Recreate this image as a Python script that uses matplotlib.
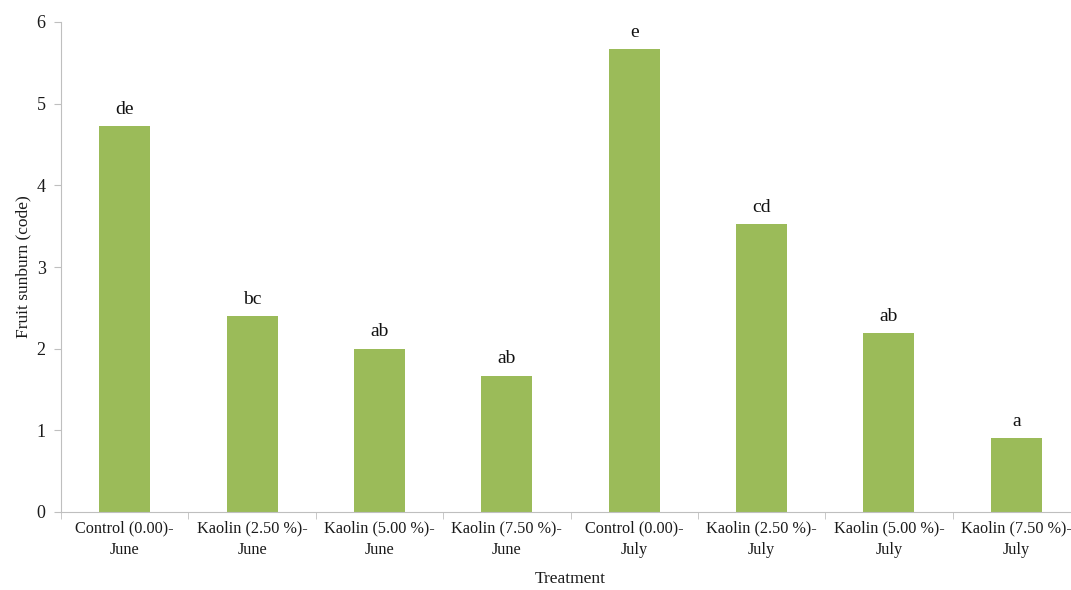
import matplotlib.pyplot as plt
import numpy as np

plt.rcParams['font.family'] = ['Liberation Serif', 'DejaVu Serif']

treatments = ['Control (0.00)-\nJune', 'Kaolin (2.50 %)-\nJune', 'Kaolin (5.00 %)-\nJune', 'Kaolin (7.50 %)-\nJune',
              'Control (0.00)-\nJuly', 'Kaolin (2.50 %)-\nJuly', 'Kaolin (5.00 %)-\nJuly', 'Kaolin (7.50 %)-\nJuly']
sunburn = [4.73, 2.40, 2.00, 1.67, 5.67, 3.53, 2.19, 0.91]
letters = ['de', 'bc', 'ab', 'ab', 'e', 'cd', 'ab', 'a']

fig = plt.figure(figsize=(10.71, 5.9), dpi=100)
ax = fig.add_axes([61 / 1071, 78 / 590, 1019 / 1071, 490 / 590])

x = np.arange(len(treatments))
ax.bar(x, sunburn, width=0.4, color='#9bbb59')
for xi, v, t in zip(x, sunburn, letters):
    ax.text(xi, v + 0.1, t, ha='center', va='bottom', fontsize=14, color='#111111')

ax.set_xlim(-0.5, 7.5)
ax.set_ylim(0, 6)
ax.set_yticks(range(7))
ax.set_xticks(x)
ax.set_xticklabels(treatments, fontsize=11.7, linespacing=1.5)
ax.set_xticks(np.arange(-0.5, 8, 1), minor=True)
ax.tick_params(axis='x', which='major', length=0, pad=6, labelcolor='#1a1a1a')
ax.tick_params(axis='x', which='minor', length=5, color='#bfbfbf')
ax.tick_params(axis='y', length=5, color='#bfbfbf', labelsize=13, pad=6, labelcolor='#1a1a1a')

for s in ['top', 'right']:
    ax.spines[s].set_visible(False)
for s in ['left', 'bottom']:
    ax.spines[s].set_color('#bfbfbf')

ax.set_ylabel('Fruit sunburn (code)', fontsize=12.5, labelpad=4, color='#1a1a1a')
ax.set_xlabel('Treatment', fontsize=12.5, labelpad=9, color='#1a1a1a')

plt.savefig('out.png', dpi=100)
